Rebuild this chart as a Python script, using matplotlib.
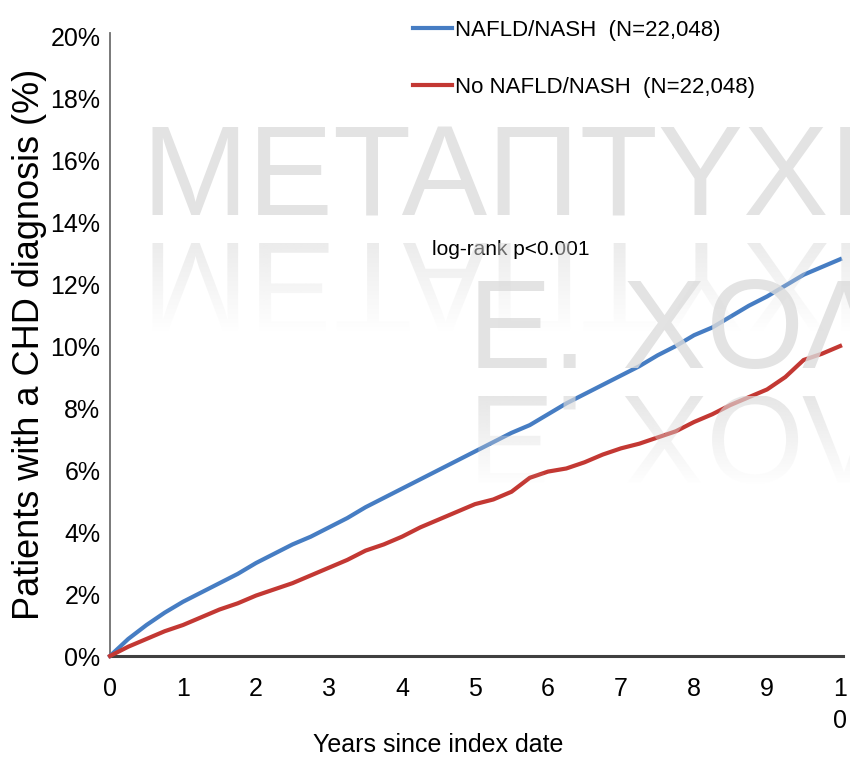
import numpy as np
import matplotlib
matplotlib.use("Agg")
import matplotlib.pyplot as plt
from matplotlib.font_manager import FontProperties
from matplotlib.textpath import TextPath
from matplotlib.patches import PathPatch
from matplotlib.transforms import Affine2D

# cumulative CHD incidence (%) read at quarter-year steps
years = np.arange(0, 10.01, 0.25)
nafld = [0, 0.55, 1.0, 1.4, 1.75, 2.05, 2.35, 2.65, 3.0, 3.3, 3.6, 3.85, 4.15, 4.45, 4.8,
         5.1, 5.4, 5.7, 6.0, 6.3, 6.6, 6.9, 7.2, 7.45, 7.8, 8.15, 8.45, 8.75, 9.05, 9.35,
         9.7, 10.0, 10.35, 10.6, 10.95, 11.3, 11.6, 11.95, 12.3, 12.55, 12.8]
no_nafld = [0, 0.3, 0.55, 0.8, 1.0, 1.25, 1.5, 1.7, 1.95, 2.15, 2.35, 2.6, 2.85, 3.1, 3.4,
            3.6, 3.85, 4.15, 4.4, 4.65, 4.9, 5.05, 5.3, 5.75, 5.95, 6.05, 6.25, 6.5, 6.7,
            6.85, 7.05, 7.25, 7.55, 7.8, 8.1, 8.35, 8.6, 9.0, 9.55, 9.75, 10.0]
labels = ["NAFLD/NASH  (N=22,048)", "No NAFLD/NASH  (N=22,048)"]
colors = ["#467dc3", "#c33833"]
xticks = list(range(11))
xticklabels = [str(i) for i in range(10)] + ["1\n0"]
yticks = list(range(0, 21, 2))
yticklabels = [f"{v}%" for v in yticks]

font = ["Liberation Sans", "DejaVu Sans"]
W, H = 850, 764

fig = plt.figure(figsize=(W / 100, H / 100), dpi=100)
ax = fig.add_axes([110 / W, 108 / H, 733 / W, 623 / H])

ax.plot(years, nafld, color=colors[0], lw=3, label=labels[0], clip_on=False, zorder=3)
ax.plot(years, no_nafld, color=colors[1], lw=3, label=labels[1], clip_on=False, zorder=4)

ax.set_xlim(0, 10.04)
ax.set_ylim(0, 20.1)
ax.set_xticks(xticks)
ax.set_xticklabels(xticklabels, family=font, fontsize=18, linespacing=1.45)
ax.set_yticks(yticks)
ax.set_yticklabels(yticklabels, family=font, fontsize=18)
ax.tick_params(axis="x", length=0, pad=15)
ax.tick_params(axis="y", length=0, pad=7)
for s in ["top", "right"]:
    ax.spines[s].set_visible(False)
ax.spines["left"].set_color("#6e6e6e")
ax.spines["left"].set_linewidth(1.3)
ax.spines["bottom"].set_color("#404040")
ax.spines["bottom"].set_linewidth(2.2)

ax.text(4.41, 13.1, "log-rank p<0.001", family=font, fontsize=15, va="center", ha="left")

leg = fig.legend(loc="upper left", bbox_to_anchor=(413 / W, 1 - 20 / H), frameon=False,
                 prop=FontProperties(family=font, size=16), handlelength=1.75,
                 handletextpad=0.13, labelspacing=1.6, borderpad=0, borderaxespad=0)
for ln in leg.get_lines():
    ln.set_linewidth(3)

fig.text(438 / W, 1 - 745 / H, "Years since index date", family=font, fontsize=18,
         ha="center", va="center")
fig.text(30 / W, 1 - 344 / H, "Patients with a CHD diagnosis (%)", family=font,
         fontsize=26, rotation=90, ha="center", va="center")

# watermark layer in pixel coordinates, with faded mirror images under each line
wm = fig.add_axes([0, 0, 1, 1], zorder=5)
wm.set_axis_off()
wm_fp = FontProperties(family="Liberation Sans")
wm_color = "#dcdcdc"
for word, x0, base, size, fade_top in [("ΜΕΤΑΠΤΥΧΙ", 142, 215, 128, 0.55),
                                       ("Ε. ΧΟΛ", 468, 368, 126, 0.7)]:
    wm.text(x0, base, word, fontproperties=wm_fp, fontsize=size * 0.72, color=wm_color,
            alpha=0.8, ha="left", va="baseline")
    mirror = base + 28
    tp = TextPath((0, 0), word, size=size, prop=wm_fp)
    tp = Affine2D().translate(x0, mirror).transform_path(tp)
    patch = PathPatch(tp, facecolor="none", edgecolor="none")
    wm.add_patch(patch)
    fade = np.zeros((100, 2, 4))
    fade[..., :3] = 220 / 255
    fade[..., 3] = np.linspace(fade_top, 0, 100)[:, None]
    im = wm.imshow(fade, extent=(0, W, mirror + 90, mirror), origin="upper",
                   aspect="auto", interpolation="bilinear")
    im.set_clip_path(patch)
wm.set_xlim(0, W)
wm.set_ylim(H, 0)

fig.savefig("out.png", dpi=100)
